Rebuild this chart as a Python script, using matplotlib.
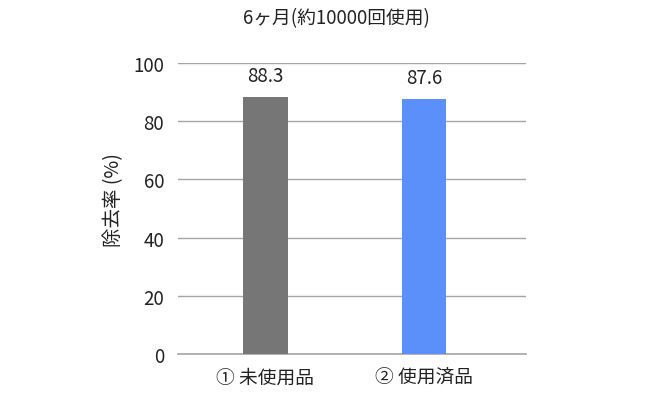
import matplotlib
matplotlib.use("Agg")
import matplotlib.pyplot as plt

plt.rcParams['font.family'] = ['Noto Sans CJK JP', 'DejaVu Sans']

categories = ["① 未使用品", "② 使用済品"]
values = [88.3, 87.6]
colors = ["#767676", "#5B8FF9"]
yticks = [0, 20, 40, 60, 80, 100]
title = "6ヶ月(約10000回使用)"
ylabel = "除去率 (%)"

fig = plt.figure(figsize=(6.7, 4.02), dpi=100)
ax = fig.add_axes([178/670, 1-355/402, (526-178)/670, (355-64)/402])

x = list(range(len(categories)))
bars = ax.bar(x, values, width=0.28, color=colors, zorder=3)
for xi, v in zip(x, values):
    ax.annotate(f"{v}", (xi, v), xytext=(0, 8), textcoords="offset points",
                ha="center", va="bottom", fontsize=13.5, color="#222222")

ax.set_xlim(-0.552, 1.644)
ax.set_ylim(0, 100)
ax.set_yticks(yticks)
ax.set_xticks(x)
ax.set_xticklabels(categories, fontsize=13.5, color="#222222")
ax.tick_params(axis='both', length=0, labelsize=13.5, colors="#222222")
ax.tick_params(axis='y', pad=10)
ax.tick_params(axis='x', pad=9)
ax.grid(axis='y', color="#a6a6a6", linewidth=1.0, zorder=0)
for s in ["top", "right", "left"]:
    ax.spines[s].set_visible(False)
ax.spines["bottom"].set_color("#a6a6a6")
ax.spines["bottom"].set_linewidth(1.2)
ax.set_ylabel(ylabel, fontsize=14, color="#222222")
ax.yaxis.set_label_coords((124 - 178) / (526 - 178), (355 - 200) / (355 - 64))
fig.text(336/670, 1-19/402, title, ha="center", va="center", fontsize=13.5, color="#222222")

fig.savefig("out.png", dpi=100, facecolor="white")
